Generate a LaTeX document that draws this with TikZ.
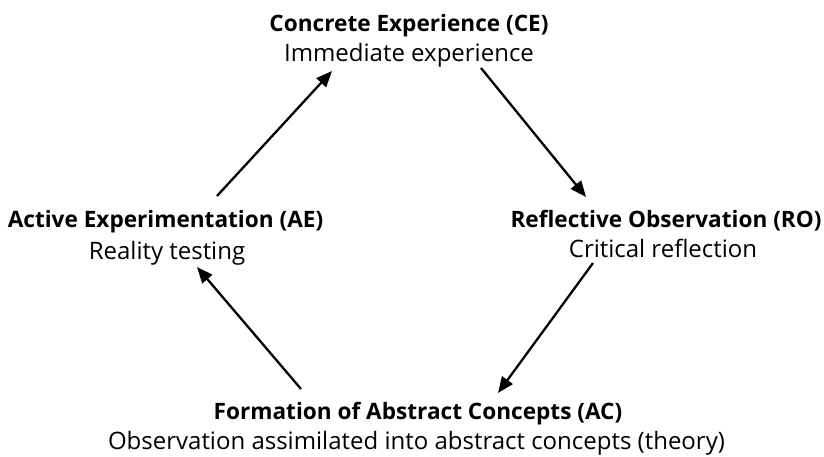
\documentclass[tikz,border=0pt]{standalone}
\usepackage{fontspec}
\setmainfont{Open Sans}
\usetikzlibrary{arrows.meta}
\begin{document}
\begin{tikzpicture}[x=1pt,y=1pt,
  ttl/.style={anchor=base,inner sep=0pt,font=\fontsize{22.6}{26}\selectfont\bfseries},
  sub/.style={anchor=base,inner sep=0pt,font=\fontsize{24}{28}\selectfont},
  arr/.style={line width=2.3pt,-{Triangle[length=16pt,width=13pt]}}]
\useasboundingbox (0,0) rectangle (824,457);
\node[ttl] (cet) at (409,425) {Concrete Experience (CE)};
\node[sub] (ces) at (409,395) {Immediate experience};
\node[ttl] (rot) at (666,229) {Reflective Observation (RO)};
\node[sub] (ros) at (663,199) {Critical reflection};
\node[ttl] (aet) at (165.5,229) {Active Experimentation (AE)};
\node[sub] (aes) at (167,197) {Reality testing};
\node[ttl] (act) at (418,37) {Formation of Abstract Concepts (AC)};
\node[sub] (acs) at (416.5,7) {Observation assimilated into abstract concepts (theory)};
\coordinate (a1) at (217,261);
\coordinate (a2) at (332,386);
\coordinate (b1) at (481,389);
\coordinate (b2) at (586,260);
\coordinate (c1) at (593,194);
\coordinate (c2) at (498,64);
\coordinate (d1) at (301,68);
\coordinate (d2) at (197,190);
\draw[arr] (a1) -- (a2);
\draw[arr] (b1) -- (b2);
\draw[arr] (c1) -- (c2);
\draw[arr] (d1) -- (d2);
\end{tikzpicture}
\end{document}
